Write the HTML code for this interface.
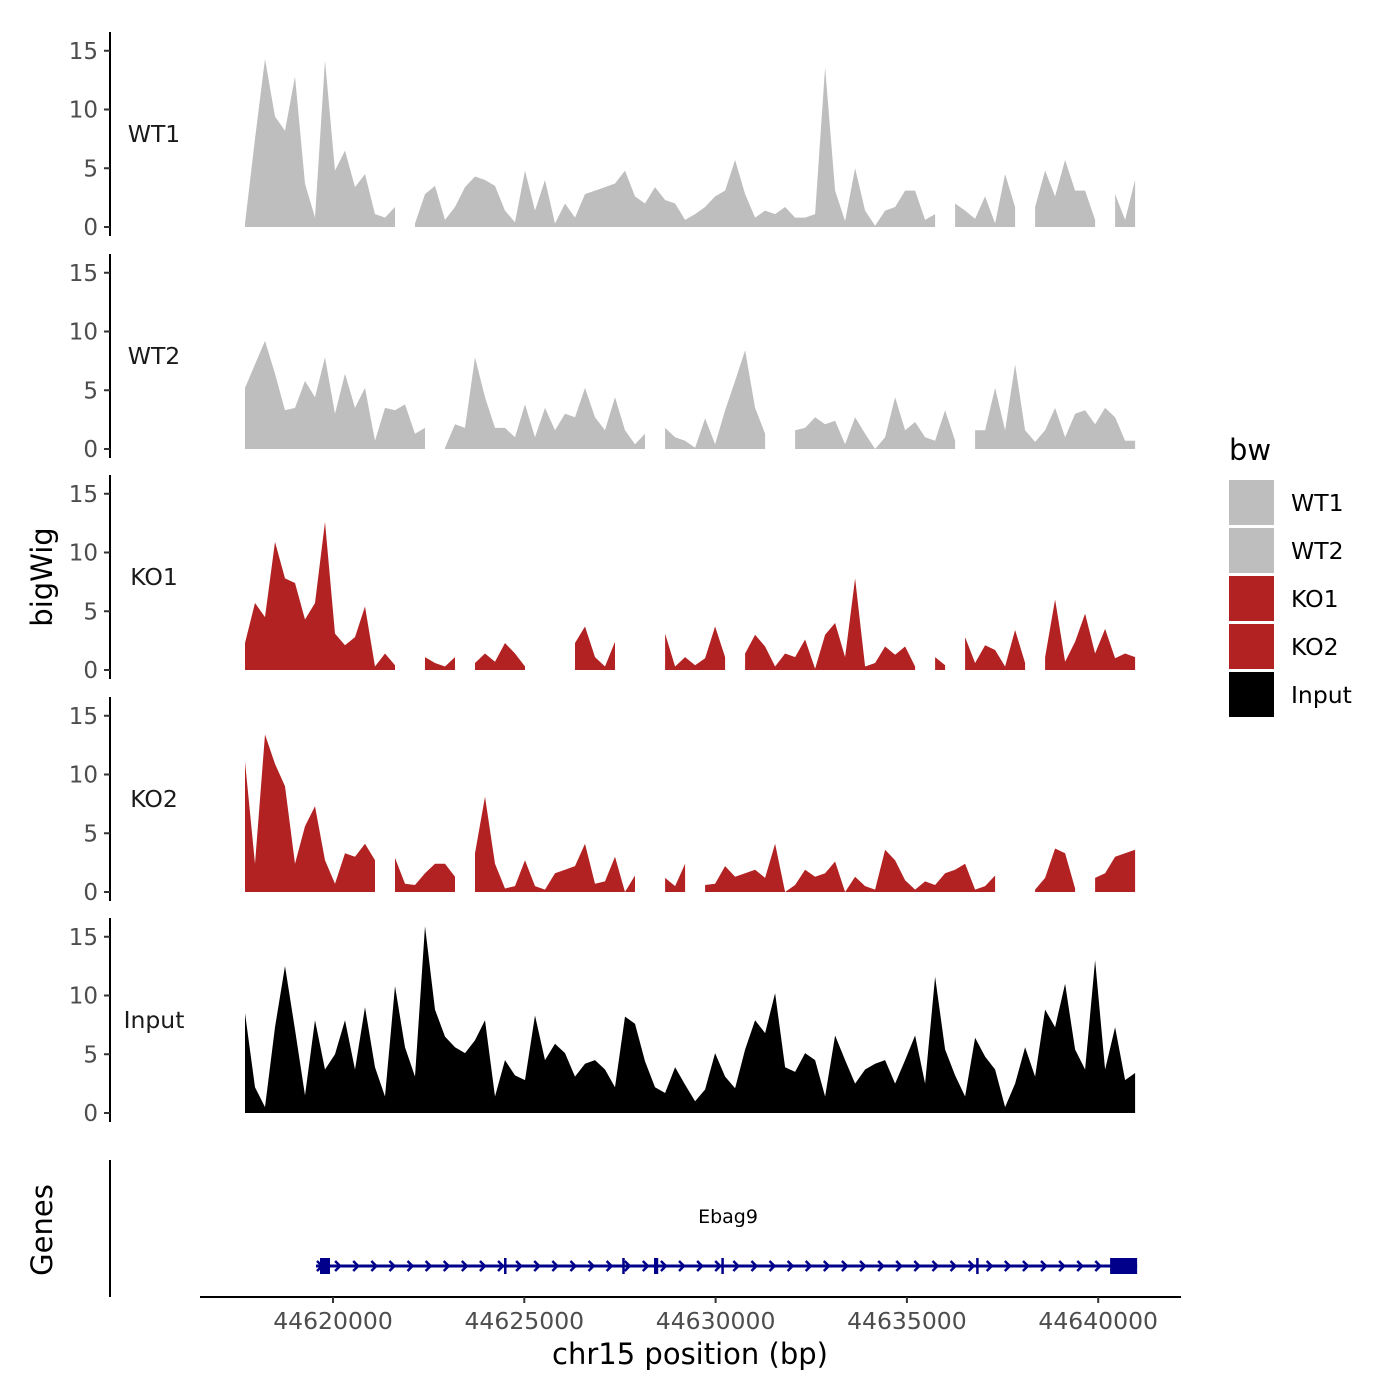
<!DOCTYPE html>
<html><head><meta charset="utf-8">
<style>
html,body{margin:0;padding:0;background:#fff;}
svg{display:block;font-family:"DejaVu Sans","Liberation Sans",sans-serif;}
</style></head>
<body>
<svg id="chart" width="1400" height="1400" viewBox="0 0 1400 1400">
  <g id="tracks"></g>
  <g id="genes"></g>
  <line x1="200" y1="1297" x2="1181" y2="1297" stroke="#000" stroke-width="2"/>
  <g id="xticks"></g>
  <text x="690" y="1364" font-size="29" text-anchor="middle" fill="#000">chr15 position (bp)</text>
  <text transform="translate(52,577) rotate(-90)" font-size="29" text-anchor="middle" fill="#000">bigWig</text>
  <text transform="translate(52,1230) rotate(-90)" font-size="29" text-anchor="middle" fill="#000">Genes</text>
  <line x1="110" y1="1160" x2="110" y2="1297" stroke="#000" stroke-width="2"/>
  <g id="legend">
    <text x="1229" y="460" font-size="29" fill="#000">bw</text>
  </g>
</svg>
<script>
const NS = "http://www.w3.org/2000/svg";
const binStart = 44617700;
const binSize = 261.4;
const trackNames = ["WT1", "WT2", "KO1", "KO2", "Input"];
const trackColors = ["#BEBEBE", "#BEBEBE", "#B22222", "#B22222", "#000000"];
const yTicks = [0, 5, 10, 15];
const xTicks = [44620000, 44625000, 44630000, 44635000, 44640000];
const wt1Vals = [0.3,7.5,14.3,9.4,8.2,12.8,3.7,0.8,14.2,4.8,6.5,3.4,4.5,1.1,0.8,1.7,null,0.3,2.8,3.5,0.6,1.7,3.4,4.3,4,3.5,1.4,0.4,4.8,1.4,4,0.3,2,0.8,2.8,3.1,3.4,3.7,4.8,2.6,2,3.4,2.3,2,0.6,1.1,1.7,2.6,3.1,5.7,2.8,0.8,1.4,1.1,1.7,0.8,0.8,1.1,13.6,3.1,0.5,5,1.4,0.1,1.4,1.7,3.1,3.1,0.6,1.1,null,2,1.4,0.7,2.6,0.3,4.5,1.7,null,1.7,4.8,2.6,5.7,3.1,3.1,0.6,null,2.8,0.6,4];
const wt2Vals = [5.2,7.2,9.2,6.4,3.3,3.5,5.8,4.4,7.8,3,6.4,3.5,5.2,0.7,3.5,3.3,3.8,1.3,1.8,null,0.1,2.1,1.8,7.8,4.4,1.8,1.8,1,3.8,1,3.5,1.6,3,2.7,5.2,2.7,1.6,4.4,1.6,0.4,1.3,null,1.8,1,0.7,0.1,2.6,0.4,3.3,5.8,8.4,3.5,1.3,null,null,1.6,1.8,2.7,2.1,2.4,0.4,2.7,1.3,0,1,4.4,1.6,2.3,1,0.7,3.3,0.7,null,1.6,1.6,5.2,1.6,7.2,1.6,0.6,1.6,3.5,1,3,3.3,2.1,3.5,2.7,0.7,0.7];
const ko1Vals = [2.3,5.7,4.5,10.9,7.8,7.4,4.3,5.7,12.6,3.1,2.1,2.8,5.4,0.3,1.4,0.4,null,null,1.1,0.6,0.3,1.1,null,0.6,1.4,0.7,2.3,1.4,0.3,null,null,0.3,null,2.3,3.7,1.1,0.3,2.4,null,1,null,null,3.1,0.3,1.1,0.4,1,3.7,1.1,null,1.4,3,2,0.3,1.4,1.1,2.6,0.1,3,4,1.1,7.8,0.3,0.6,2,1.3,2,0.3,null,1.1,0.4,null,2.8,0.6,2.1,1.7,0.3,3.4,0.6,null,1.1,6,0.7,2.4,4.8,1.4,3.5,1,1.4,1.1];
const ko2Vals = [11.1,2.4,13.4,10.9,9,2.4,5.6,7.3,2.7,0.7,3.3,3,4.1,2.7,null,2.9,0.7,0.6,1.6,2.4,2.4,1.3,null,3.3,8.1,2.4,0.3,0.5,2.7,0.5,0.2,1.6,1.9,2.2,4.1,0.7,0.9,3,0,1.4,null,null,1.2,0.5,2.4,null,0.6,0.7,2.2,1.3,1.6,1.9,1.2,4.1,0,0.6,1.9,1.3,1.6,2.6,0,1.3,0.5,0.2,3.6,2.7,1,0.2,0.9,0.6,1.6,1.9,2.4,0.2,0.5,1.4,null,null,null,0.2,1.2,3.7,3.3,0.3,null,1.2,1.6,3,3.3,3.6];
const inputVals = [8.5,2.2,0.5,7.3,12.5,7.1,1.5,7.9,3.7,5,7.9,3.7,9,3.9,1.4,10.8,5.6,3.1,15.9,8.8,6.5,5.6,5.1,6.2,7.9,1.4,4.5,3.2,2.8,8.3,4.5,5.9,5.1,3.1,4.2,4.5,3.7,2.2,8.2,7.6,4.4,2.2,1.7,3.9,2.4,1,2,5.1,3.1,2.1,5.4,7.9,6.8,10.2,3.9,3.5,5.1,4.5,1.4,6.6,4.5,2.5,3.7,4.2,4.5,2.5,4.5,6.6,2.5,11.6,5.4,3.2,1.4,6.4,4.8,3.7,0.5,2.5,5.6,3.1,8.8,7.3,11,5.4,3.7,13,3.7,7.3,2.8,3.4];
const geneName = "Ebag9";
const geneStart = 44619556;
const geneEnd = 44641017;
const exonStarts = [44619660, 44624470, 44627560, 44628390, 44630150, 44636810, 44640311];
const exonEnds = [44619922, 44624530, 44627610, 44628500, 44630200, 44636860, 44641017];

const seriesVals = [wt1Vals, wt2Vals, ko1Vals, ko2Vals, inputVals];
const baseY = [227, 449, 670, 892, 1113];
const pxPerUnit = 11.75;
function xScale(bp){ return 333 + (bp - 44620000) / 5000 * 191.3; }
function yScale(panel, v){ return baseY[panel] - v * pxPerUnit; }
function mk(tag, attrs, parent){
  const e = document.createElementNS(NS, tag);
  for (const k in attrs) e.setAttribute(k, attrs[k]);
  parent.appendChild(e); return e;
}
const tracksG = document.getElementById("tracks");
for (let p = 0; p < trackNames.length; p++){
  const g = mk("g", {}, tracksG);
  
  
  const ax = mk("line", {x1:110, x2:110, y1:baseY[p]-195, y2:baseY[p]+9, stroke:"#000", "stroke-width":2}, g);
  
  
  for (const t of yTicks){
    const y = yScale(p, t);
    const tk = mk("line", {x1:104, x2:110, y1:y, y2:y, stroke:"#333", "stroke-width":2}, g);
    
    
    const tl = mk("text", {x:98, y:y+8, "font-size":23, "text-anchor":"end", fill:"#4d4d4d"}, g);
    tl.textContent = t;
    
    
  }
  const lab = mk("text", {x:154, y:baseY[p]-85, "font-size":23.5, "text-anchor":"middle", fill:"#1a1a1a"}, g);
  lab.textContent = trackNames[p];
  
  
  const vals = seriesVals[p];
  let d = "", seg = [];
  const flush = () => {
    if (seg.length){
      d += "M" + seg[0][0].toFixed(1) + "," + baseY[p];
      for (const s of seg) d += "L" + s[0].toFixed(1) + "," + s[1].toFixed(1);
      d += "L" + seg[seg.length-1][0].toFixed(1) + "," + baseY[p] + "Z";
    }
    seg = [];
  };
  for (let i = 0; i < vals.length; i++){
    if (vals[i] === null){ flush(); continue; }
    seg.push([xScale(binStart + i * binSize), yScale(p, vals[i])]);
  }
  flush();
  const area = mk("path", {d:d, fill:trackColors[p]}, g);
  
  
}
const xt = document.getElementById("xticks");
for (const t of xTicks){
  const x = xScale(t);
  const l = mk("line", {x1:x, x2:x, y1:1297, y2:1303, stroke:"#333", "stroke-width":2}, xt);
  
  
  const tx = mk("text", {x:x, y:1329, "font-size":23.5, "text-anchor":"middle", fill:"#4d4d4d"}, xt);
  tx.textContent = t;
  
  
}
const gg = document.getElementById("genes");
const gy = 1266, gx1 = xScale(geneStart), gx2 = xScale(geneEnd);
const gl = mk("line", {x1:gx1, x2:gx2, y1:gy, y2:gy, stroke:"#00008B", "stroke-width":3}, gg);


for (let x = gx1 + 4; x < gx2 - 10; x += 18.1){
  const ch = mk("path", {d:"M"+(x-3)+","+(gy-5)+"L"+(x+2)+","+gy+"L"+(x-3)+","+(gy+5), fill:"none", stroke:"#00008B", "stroke-width":2.5}, gg);
  
  
}
for (let i = 0; i < exonStarts.length; i++){
  const x1 = xScale(exonStarts[i]), x2 = xScale(exonEnds[i]);
  const w = Math.max(x2 - x1, 2.5);
  const r = mk("rect", {x:x1, y:gy-8, width:w, height:16, fill:"#00008B"}, gg);
  
  
}
const gt = mk("text", {x:728, y:1223, "font-size":19, "text-anchor":"middle", fill:"#000"}, gg);
gt.textContent = geneName;


const lg = document.getElementById("legend");
for (let i = 0; i < trackNames.length; i++){
  const y = 480 + i * 48;
  const r = mk("rect", {x:1229, y:y, width:45, height:45, fill:trackColors[i]}, lg);
  
  
  const t = mk("text", {x:1291, y:y+31, "font-size":23.5, fill:"#000"}, lg);
  t.textContent = trackNames[i];
  
  
}
</script>
</body></html>
